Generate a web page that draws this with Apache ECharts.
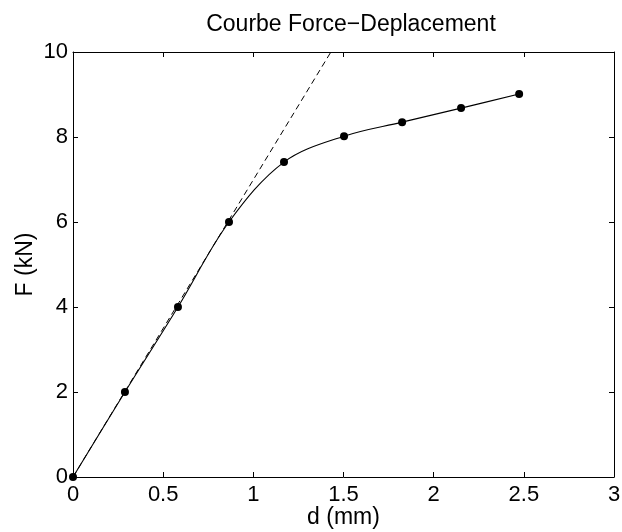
<!DOCTYPE html>
<html>
<head>
<meta charset="utf-8">
<script src="https://cdn.jsdelivr.net/npm/echarts@6/dist/echarts.min.js"></script>
<style>
  html, body { margin: 0; padding: 0; background: #fff; }
  #chart { width: 622px; height: 532px; }
</style>
</head>
<body>
<div id="chart"></div>
<script>
// Measured displacement (mm) and force (kN)
const displacement = [0, 0.288, 0.582, 0.865, 1.17, 1.503, 1.825, 2.152, 2.474];
const force = [0, 2.0, 4.0, 6.0, 7.41, 8.02, 8.35, 8.68, 9.01];

// Initial elastic stiffness line
const stiffnessX = [0, 1.43];
const stiffnessY = [0, 10];

const xTicks = { min: 0, max: 3, interval: 0.5 };
const yTicks = { min: 0, max: 10, interval: 2 };

const FONT = 'Liberation Sans, Arial, Helvetica, sans-serif';

const curveData = displacement.map((d, i) => [d, force[i]]);
const stiffnessData = stiffnessX.map((d, i) => [d, stiffnessY[i]]);

const lineStyle = { color: '#000', width: 1 };
const tickStyle = { inside: true, length: 5, lineStyle: { color: '#000', width: 1 } };

const chart = echarts.init(document.getElementById('chart'), null, { renderer: 'canvas' });
chart.setOption({
  animation: false,
  backgroundColor: '#fff',
  title: {
    text: 'Courbe Force\u2212Deplacement',
    left: 346,
    top: 8,
    textAlign: 'center',
    textStyle: { fontFamily: FONT, fontSize: 23, fontWeight: 'normal', color: '#000' }
  },
  grid: { left: 73, right: 8, top: 52, bottom: 55, containLabel: false, outerBoundsMode: 'none' },
  xAxis: [
    {
      type: 'value', min: xTicks.min, max: xTicks.max, interval: xTicks.interval,
      position: 'bottom',
      name: 'd (mm)', nameLocation: 'middle', nameGap: 29, nameMoveOverlap: false,
      nameTextStyle: { fontFamily: FONT, fontSize: 23, color: '#000' },
      axisLine: { show: true, onZero: false, lineStyle },
      axisTick: tickStyle,
      axisLabel: { fontFamily: FONT, fontSize: 22, color: '#000', margin: 7 },
      splitLine: { show: false }
    },
    {
      type: 'value', min: xTicks.min, max: xTicks.max, interval: xTicks.interval,
      position: 'top',
      axisLine: { show: true, onZero: false, lineStyle },
      axisTick: tickStyle,
      axisLabel: { show: false },
      splitLine: { show: false }
    }
  ],
  yAxis: [
    {
      type: 'value', min: yTicks.min, max: yTicks.max, interval: yTicks.interval,
      position: 'left',
      name: 'F (kN)', nameLocation: 'middle', nameGap: 36, nameMoveOverlap: false,
      nameTextStyle: { fontFamily: FONT, fontSize: 23, color: '#000' },
      axisLine: { show: true, onZero: false, lineStyle },
      axisTick: tickStyle,
      axisLabel: { fontFamily: FONT, fontSize: 22, color: '#000', margin: 5 },
      splitLine: { show: false }
    },
    {
      type: 'value', min: yTicks.min, max: yTicks.max, interval: yTicks.interval,
      position: 'right',
      axisLine: { show: true, onZero: false, lineStyle },
      axisTick: tickStyle,
      axisLabel: { show: false },
      splitLine: { show: false }
    }
  ],
  series: [
    {
      name: 'stiffness',
      type: 'line',
      xAxisIndex: 0, yAxisIndex: 0,
      data: stiffnessData,
      symbol: 'none',
      lineStyle: { color: '#000', width: 1, type: [6, 4] },
      z: 2
    },
    {
      name: 'force',
      type: 'line',
      xAxisIndex: 0, yAxisIndex: 0,
      data: curveData,
      smooth: 0.35,
      symbol: 'circle',
      symbolSize: 8,
      showAllSymbol: true,
      itemStyle: { color: '#000', borderColor: '#000', borderWidth: 0 },
      lineStyle: { color: '#000', width: 1.1 },
      z: 3
    }
  ]
});
</script>
</body>
</html>
